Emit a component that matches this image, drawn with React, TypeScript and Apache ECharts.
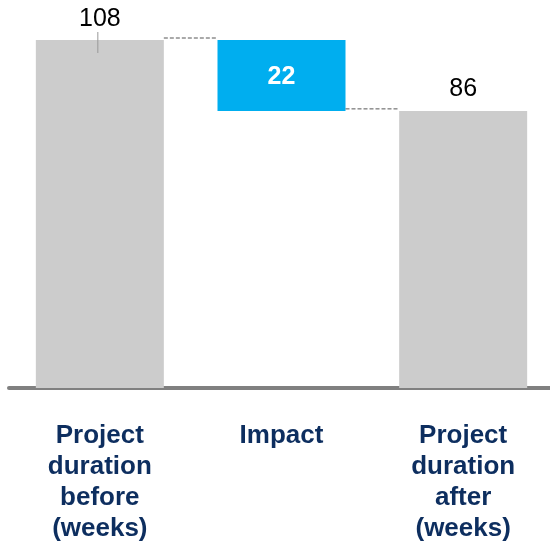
import React, { useEffect, useRef } from "react";
import * as echarts from "echarts";

const categories = [
  "Project\nduration\nbefore\n(weeks)",
  "Impact",
  "Project\nduration\nafter\n(weeks)",
];
const totals = [108, 22, 86];
const baseValues = [0, 86, 0];
const barColors = ["#CCCCCC", "#00AEEF", "#CCCCCC"];
const connectorLevels: [number, number][] = [
  [0, 108],
  [1, 86],
];
const leaderPoints: [number, number][] = [[0, 108]];

const FONT = "Arial, 'Liberation Sans', sans-serif";
const BAR_WIDTH = 128;

export default function App() {
  const ref = useRef<HTMLDivElement>(null);
  useEffect(() => {
    if (!ref.current) return;
    const chart = echarts.init(ref.current, undefined, { renderer: "svg" });
    chart.setOption({
      animation: false,
      grid: {
        left: 9,
        top: 40,
        width: 545,
        bottom: 155,
        containLabel: false,
        outerBoundsMode: "none",
      },
      xAxis: {
        type: "category",
        data: categories,
        offset: 3,
        axisLine: { show: true, lineStyle: { color: "#808080", width: 4 } },
        axisTick: { show: false },
        axisLabel: {
          interval: 0,
          margin: 27,
          fontFamily: FONT,
          fontSize: 26,
          fontWeight: "bold",
          lineHeight: 31,
          color: "#0D2E5F",
        },
      },
      yAxis: {
        type: "value",
        min: 0,
        max: 108,
        show: false,
        splitLine: { show: false },
      },
      series: [
        {
          type: "bar",
          stack: "w",
          barWidth: BAR_WIDTH,
          silent: true,
          itemStyle: { color: "transparent" },
          data: baseValues,
        },
        {
          type: "bar",
          stack: "w",
          barWidth: BAR_WIDTH,
          data: totals.map((v, i) => ({
            value: v,
            itemStyle: { color: barColors[i] },
            label:
              i === 1
                ? {
                    show: true,
                    position: "inside",
                    color: "#FFFFFF",
                    fontWeight: "bold",
                    fontSize: 25,
                    fontFamily: FONT,
                  }
                : {
                    show: true,
                    position: "top",
                    distance: 11,
                    color: "#000000",
                    fontSize: 25,
                    fontFamily: FONT,
                  },
          })),
        },
        {
          type: "custom",
          silent: true,
          z: 5,
          data: connectorLevels,
          renderItem: (params: any, api: any) => {
            const i = api.value(0);
            const v = api.value(1);
            const p1 = api.coord([i, v]);
            const p2 = api.coord([i + 1, v]);
            return {
              type: "line",
              shape: {
                x1: p1[0] + BAR_WIDTH / 2,
                y1: p1[1] - 2,
                x2: p2[0] - BAR_WIDTH / 2,
                y2: p1[1] - 2,
              },
              style: { stroke: "#555555", lineWidth: 1, lineDash: [4, 2] },
            };
          },
        },
        {
          type: "custom",
          silent: true,
          z: 5,
          data: leaderPoints,
          renderItem: (params: any, api: any) => {
            const p = api.coord([api.value(0), api.value(1)]);
            return {
              type: "line",
              shape: { x1: p[0] - 2, y1: p[1] - 8, x2: p[0] - 2, y2: p[1] + 13 },
              style: { stroke: "#999999", lineWidth: 1 },
            };
          },
        },
      ],
    });
    return () => chart.dispose();
  }, []);
  return (
    <div
      ref={ref}
      style={{ position: "fixed", left: 0, top: 0, width: 550, height: 543 }}
    />
  );
}
